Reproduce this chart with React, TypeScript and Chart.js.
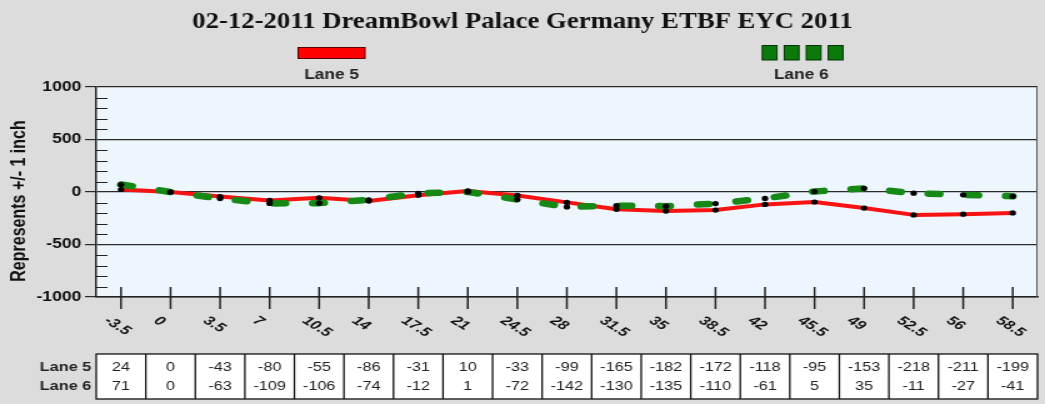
import React, { useEffect, useRef } from 'react';
import { Chart, registerables } from 'chart.js';

Chart.register(...registerables);

const TITLE = '02-12-2011 DreamBowl Palace Germany ETBF EYC 2011';
const Y_TITLE = 'Represents +/- 1 inch';
const seriesNames = ['Lane 5', 'Lane 6'];
const boards = ['-3.5', '0', '3.5', '7', '10.5', '14', '17.5', '21', '24.5', '28', '31.5', '35', '38.5', '42', '45.5', '49', '52.5', '56', '58.5'];
const lane5 = [24, 0, -43, -80, -55, -86, -31, 10, -33, -99, -165, -182, -172, -118, -95, -153, -218, -211, -199];
const lane6 = [71, 0, -63, -109, -106, -74, -12, 1, -72, -142, -130, -135, -110, -61, 5, 35, -11, -27, -41];
const yMajorTicks = [-1000, -500, 0, 500, 1000];

const W = 836; // internal width, stretched to 1045 on screen
const H = 404;
const SANS = '"Liberation Sans", Arial, sans-serif';
const SERIF = '"Liberation Serif", "Times New Roman", serif';

const decoPlugin = {
  id: 'deco',
  beforeDraw(chart: any) {
    const { ctx, chartArea: a } = chart;
    ctx.save();
    ctx.fillStyle = '#dcdcdc';
    ctx.fillRect(0, 0, chart.width, chart.height);
    ctx.fillStyle = '#eef6fd';
    ctx.fillRect(a.left, a.top, a.right - a.left, a.bottom - a.top);
    ctx.restore();
  },
  afterDatasetsDraw(chart: any) {
    const { ctx } = chart;
    ctx.save();
    ctx.fillStyle = '#000';
    [0, 1].forEach((di) => {
      const meta = chart.getDatasetMeta(di);
      meta.data.forEach((pt: any) => {
        ctx.beginPath();
        ctx.arc(pt.x, pt.y, 2.6, 0, Math.PI * 2);
        ctx.fill();
      });
    });
    ctx.restore();
  },
  afterDraw(chart: any) {
    const { ctx, chartArea: a } = chart;
    const xs = chart.scales.x;
    const ys = chart.scales.y;
    ctx.save();

    // right border
    ctx.strokeStyle = '#555';
    ctx.lineWidth = 1;
    ctx.beginPath();
    ctx.moveTo(a.right - 0.5, a.top);
    ctx.lineTo(a.right - 0.5, a.bottom);
    ctx.stroke();

    // minor y ticks (inside)
    ctx.strokeStyle = '#222';
    ctx.lineWidth = 1;
    for (let v = -900; v <= 900; v += 100) {
      if (v % 500 === 0) continue;
      const y = Math.round(ys.getPixelForValue(v)) + 0.5;
      ctx.beginPath();
      ctx.moveTo(a.left, y);
      ctx.lineTo(a.left + 9, y);
      ctx.stroke();
    }

    // x ticks crossing axis
    ctx.lineWidth = 1.5;
    boards.forEach((_, i) => {
      const x = xs.getPixelForValue(i);
      ctx.beginPath();
      ctx.moveTo(x, a.bottom - 10);
      ctx.lineTo(x, a.bottom + 12);
      ctx.stroke();
    });

    // x labels rotated
    ctx.fillStyle = '#111';
    ctx.font = 'italic bold 13px ' + SANS;
    ctx.textAlign = 'left';
    ctx.textBaseline = 'alphabetic';
    boards.forEach((lab, i) => {
      const x = xs.getPixelForValue(i);
      ctx.save();
      ctx.translate(x - 14, 322);
      ctx.rotate((37 * Math.PI) / 180);
      ctx.fillText(lab, 0, 0);
      ctx.restore();
    });

    // table
    const tTop = 354;
    const tBot = 399;
    ctx.fillStyle = '#ffffff';
    ctx.fillRect(a.left, tTop, a.right - a.left, tBot - tTop);
    ctx.strokeStyle = '#111';
    ctx.lineWidth = 1.3;
    ctx.strokeRect(a.left, tTop, a.right - a.left, tBot - tTop);
    const step = xs.getPixelForValue(1) - xs.getPixelForValue(0);
    for (let i = 1; i < boards.length; i++) {
      const x = xs.getPixelForValue(i) - step / 2;
      ctx.beginPath();
      ctx.moveTo(x, tTop);
      ctx.lineTo(x, tBot);
      ctx.stroke();
    }
    ctx.fillStyle = '#222';
    ctx.font = '13px ' + SANS;
    ctx.textAlign = 'center';
    ctx.textBaseline = 'middle';
    boards.forEach((_, i) => {
      const x = xs.getPixelForValue(i);
      ctx.fillText(String(lane5[i]), x, 367);
      ctx.fillText(String(lane6[i]), x, 386);
    });
    ctx.font = 'bold 13px ' + SANS;
    ctx.textAlign = 'right';
    ctx.fillText(seriesNames[0], a.left - 4, 367);
    ctx.fillText(seriesNames[1], a.left - 4, 386);

    // title
    ctx.save();
    ctx.translate(W / 2, 28);
    ctx.scale(0.93, 1);
    ctx.fillStyle = '#111';
    ctx.font = 'bold 23px ' + SERIF;
    ctx.textAlign = 'center';
    ctx.textBaseline = 'alphabetic';
    ctx.fillText(TITLE, 0, 0);
    ctx.restore();

    // legend
    ctx.lineWidth = 1;
    ctx.fillStyle = '#ff0000';
    ctx.strokeStyle = '#5a0000';
    ctx.fillRect(238.5, 47.5, 53.5, 11);
    ctx.strokeRect(238.5, 47.5, 53.5, 11);
    ctx.fillStyle = '#0b7a0b';
    ctx.strokeStyle = '#053305';
    for (let k = 0; k < 4; k++) {
      const x = 609.8 + k * 17.6;
      ctx.fillRect(x, 45.5, 11.8, 14.5);
      ctx.strokeRect(x, 45.5, 11.8, 14.5);
    }
    ctx.fillStyle = '#222';
    ctx.font = 'bold 15px ' + SANS;
    ctx.textAlign = 'center';
    ctx.textBaseline = 'alphabetic';
    [[seriesNames[0], 265.3], [seriesNames[1], 641]].forEach(([t, x]: any) => {
      ctx.save();
      ctx.translate(x, 78.5);
      ctx.scale(0.92, 1);
      ctx.fillText(t, 0, 0);
      ctx.restore();
    });

    // y title
    ctx.save();
    ctx.translate(16, 201);
    ctx.rotate(-Math.PI / 2);
    ctx.font = 'bold 16px ' + SANS;
    ctx.fillStyle = '#111';
    ctx.textAlign = 'center';
    ctx.textBaseline = 'middle';
    ctx.fillText(Y_TITLE, 0, 0);
    ctx.restore();

    ctx.restore();
  },
};

export default function App() {
  const ref = useRef<HTMLCanvasElement | null>(null);
  useEffect(() => {
    document.body.style.margin = '0';
    document.body.style.background = '#dcdcdc';
    const canvas = ref.current;
    if (!canvas) return;
    const chart = new Chart(canvas, {
      type: 'line',
      data: {
        labels: boards,
        datasets: [
          {
            label: seriesNames[0],
            data: lane5,
            borderColor: '#f81212',
            borderWidth: 4,
            pointRadius: 0,
            tension: 0,
            fill: false,
            borderJoinStyle: 'round',
            borderCapStyle: 'round',
            order: 1,
          },
          {
            label: seriesNames[1],
            data: lane6,
            borderColor: '#158815',
            borderWidth: 6.5,
            borderDash: [9, 22],
            borderCapStyle: 'round',
            borderJoinStyle: 'round',
            pointRadius: 0,
            tension: 0,
            fill: false,
            order: 0,
          },
        ],
      },
      options: {
        responsive: false,
        animation: false,
        devicePixelRatio: 1,
        layout: { padding: { top: 87, right: 6, left: 0, bottom: 0 } },
        plugins: {
          legend: { display: false },
          title: { display: false },
          tooltip: { enabled: false },
        },
        scales: {
          x: {
            type: 'category',
            offset: true,
            grid: { display: false },
            ticks: { display: false },
            border: { display: true, color: '#222', width: 1.5 },
            afterFit: (s: any) => {
              s.height = 107;
            },
          },
          y: {
            min: -1000,
            max: 1000,
            ticks: {
              stepSize: 100,
              autoSkip: false,
              padding: 3,
              color: '#111',
              font: { family: SANS, size: 14, weight: 'bold' },
              callback: (v: any) => (yMajorTicks.includes(Number(v)) ? String(v) : ''),
            },
            grid: {
              color: (c: any) => (yMajorTicks.includes(c.tick?.value) ? '#2a2a2a' : 'rgba(0,0,0,0)'),
              tickColor: (c: any) => (yMajorTicks.includes(c.tick?.value) ? '#2a2a2a' : 'rgba(0,0,0,0)'),
              tickLength: 9,
              lineWidth: 1.2,
            },
            border: { display: true, color: '#222', width: 1.5 },
            afterFit: (s: any) => {
              s.width = 77;
            },
          },
        },
      },
      plugins: [decoPlugin],
    } as any);
    return () => chart.destroy();
  }, []);
  return (
    <div style={{ width: 1045, height: 404, background: '#dcdcdc' }}>
      <canvas ref={ref} width={W} height={H} style={{ width: '1045px', height: '404px', display: 'block' }} />
    </div>
  );
}
